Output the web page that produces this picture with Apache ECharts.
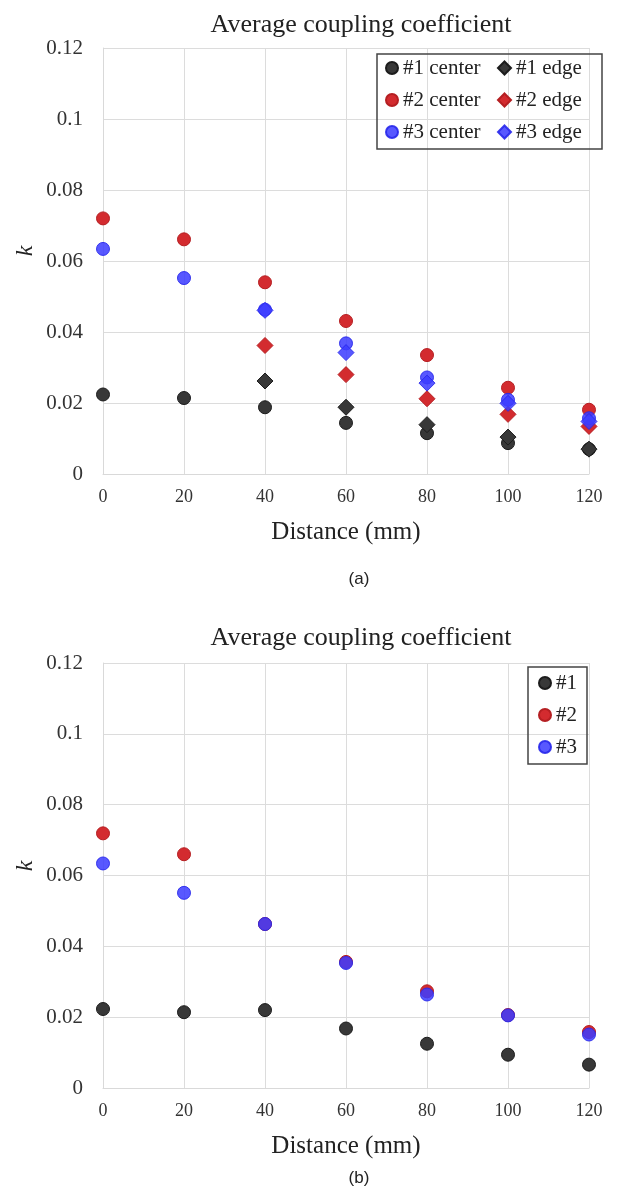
<!DOCTYPE html>
<html>
<head>
<meta charset="utf-8">
<script src="https://cdn.jsdelivr.net/npm/echarts@6/dist/echarts.min.js"></script>
<style>html,body{margin:0;padding:0;background:#fff}#c{width:633px;height:1190px}</style>
</head>
<body>
<div id="c"></div>
<script>
const distances = [0, 20, 40, 60, 80, 100, 120];
const yTicks = [0, 0.02, 0.04, 0.06, 0.08, 0.1, 0.12];
const titleText = 'Average coupling coefficient';
const xName = 'Distance (mm)';
const yName = 'k';
// (a)
const a1Center = [0.0224, 0.0214, 0.0188, 0.0144, 0.0115, 0.0087, 0.0070];
const a1Edge   = [null, null, 0.0262, 0.0188, 0.0139, 0.0104, 0.0070];
const a2Center = [0.0720, 0.0661, 0.0540, 0.0431, 0.0335, 0.0243, 0.0181];
const a2Edge   = [null, null, 0.0362, 0.0280, 0.0212, 0.0168, 0.0134];
const a3Center = [0.0634, 0.0552, 0.0463, 0.0368, 0.0272, 0.0209, 0.0157];
const a3Edge   = [null, null, 0.0461, 0.0342, 0.0256, 0.0199, 0.0148];
// (b)
const b1 = [0.0223, 0.0214, 0.0220, 0.0168, 0.0125, 0.0094, 0.0066];
const b2 = [0.0719, 0.0660, 0.0463, 0.0356, 0.0273, 0.0206, 0.0158];
const b3 = [0.0634, 0.0551, 0.0463, 0.0353, 0.0264, 0.0205, 0.0151];

const SERIF = '"Liberation Serif", "DejaVu Serif", serif';
const SANS = '"Liberation Sans", Arial, sans-serif';
const COL = {
  k: {color: '#383838', borderColor: '#1c1c1c'},
  r: {color: '#d32b2f', borderColor: '#b51f22'},
  b: {color: 'rgba(60,60,255,0.86)', borderColor: 'rgba(40,40,235,0.9)'}
};
function pts(vals) {
  const out = [];
  distances.forEach((d, i) => { if (vals[i] !== null) out.push([d, vals[i]]); });
  return out;
}
function ser(name, vals, idx, col, sym) {
  return {
    name, type: 'scatter', xAxisIndex: idx, yAxisIndex: idx,
    symbol: sym, symbolSize: sym === 'diamond' ? 16 : 13,
    itemStyle: {color: col.color, borderColor: col.borderColor, borderWidth: 1, opacity: 1},
    data: pts(vals)
  };
}
function xAx(idx) {
  return {
    type: 'value', gridIndex: idx, min: 0, max: 120, interval: 20,
    name: xName, nameLocation: 'middle', nameGap: 46,
    nameTextStyle: {fontFamily: SERIF, fontSize: 25, color: '#222'},
    axisLine: {show: true, lineStyle: {color: '#d9d9d9'}},
    axisTick: {show: false},
    axisLabel: {fontFamily: SERIF, fontSize: 18, color: '#333', margin: 14},
    splitLine: {show: true, lineStyle: {color: '#dcdcdc'}}
  };
}
function yAx(idx) {
  return {
    type: 'value', gridIndex: idx, min: 0, max: 0.12, interval: 0.02,
    axisLine: {show: true, lineStyle: {color: '#d9d9d9'}},
    axisTick: {show: false},
    axisLabel: {fontFamily: SERIF, fontSize: 21, color: '#333', margin: 20,
      formatter: v => { const t = yTicks.find(x => Math.abs(x - v) < 1e-9); return String(t !== undefined ? t : v); }},
    splitLine: {show: true, lineStyle: {color: '#dcdcdc'}}
  };
}
const legText = {fontFamily: SERIF, fontSize: 21, color: '#222', lineHeight: 22};
const titleStyle = {fontFamily: SERIF, fontSize: 26, fontWeight: 'normal', color: '#222'};
const kStyle = {text: yName, font: 'italic 24px "Liberation Serif", serif', fill: '#222', textAlign: 'center', textVerticalAlign: 'middle'};
const chart = echarts.init(document.getElementById('c'));
chart.setOption({
  animation: false,
  title: [
    {text: titleText, left: 356, top: 7, textAlign: 'center', textStyle: titleStyle},
    {text: titleText, left: 356, top: 620, textAlign: 'center', textStyle: titleStyle},
    {text: '(a)', left: 354, top: 566, textAlign: 'center', textStyle: {fontFamily: SANS, fontSize: 17, fontWeight: 'normal', color: '#222'}},
    {text: '(b)', left: 354, top: 1165, textAlign: 'center', textStyle: {fontFamily: SANS, fontSize: 17, fontWeight: 'normal', color: '#222'}}
  ],
  grid: [
    {left: 103, right: 44, top: 48, height: 426},
    {left: 103, right: 44, top: 663, height: 425}
  ],
  xAxis: [xAx(0), xAx(1)],
  yAxis: [yAx(0), yAx(1)],
  legend: [
    {orient: 'vertical', left: 385, top: 57, padding: 0, itemGap: 10, itemWidth: 12, itemHeight: 12,
      data: [{name: '#1 center', icon: 'circle'}, {name: '#2 center', icon: 'circle'}, {name: '#3 center', icon: 'circle'}], textStyle: legText},
    {orient: 'vertical', left: 497, top: 57, padding: 0, itemGap: 10, itemWidth: 13, itemHeight: 13,
      data: [{name: '#1 edge', icon: 'diamond'}, {name: '#2 edge', icon: 'diamond'}, {name: '#3 edge', icon: 'diamond'}], textStyle: legText},
    {orient: 'vertical', left: 538, top: 672, padding: 0, itemGap: 10, itemWidth: 12, itemHeight: 12,
      data: [{name: '#1', icon: 'circle'}, {name: '#2', icon: 'circle'}, {name: '#3', icon: 'circle'}], textStyle: legText}
  ],
  graphic: [
    {type: 'rect', shape: {x: 377, y: 54, width: 225, height: 95}, style: {fill: 'none', stroke: '#444', lineWidth: 1.5}, z: 10},
    {type: 'rect', shape: {x: 528, y: 667, width: 59, height: 97}, style: {fill: 'none', stroke: '#444', lineWidth: 1.5}, z: 10},
    {type: 'text', x: 26, y: 251, rotation: Math.PI / 2, style: kStyle},
    {type: 'text', x: 26, y: 866, rotation: Math.PI / 2, style: kStyle}
  ],
  series: [
    ser('#1 center', a1Center, 0, COL.k, 'circle'),
    ser('#1 edge', a1Edge, 0, COL.k, 'diamond'),
    ser('#2 center', a2Center, 0, COL.r, 'circle'),
    ser('#2 edge', a2Edge, 0, COL.r, 'diamond'),
    ser('#3 center', a3Center, 0, COL.b, 'circle'),
    ser('#3 edge', a3Edge, 0, COL.b, 'diamond'),
    ser('#1', b1, 1, COL.k, 'circle'),
    ser('#2', b2, 1, COL.r, 'circle'),
    ser('#3', b3, 1, COL.b, 'circle')
  ]
});
</script>
</body>
</html>
